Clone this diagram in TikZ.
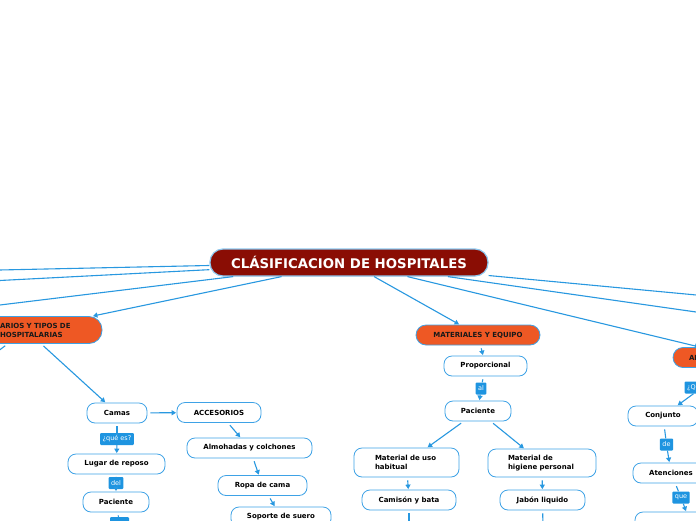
\documentclass[tikz,border=0pt]{standalone}
\usepackage{fontspec}
\setmainfont{DejaVu Sans}
\usepackage{xcolor}
\definecolor{rootcolor}{RGB}{138, 13, 4}
\definecolor{topiccolor}{RGB}{238, 88, 36}
\definecolor{edgecolor}{RGB}{40, 152, 224}
\definecolor{framecolor}{RGB}{62, 162, 230}
\definecolor{tagcolor}{RGB}{30, 148, 224}
\definecolor{halocolor}{RGB}{140, 200, 240}
\usepackage{tikz}
\usetikzlibrary{arrows.meta, calc}

\tikzset{
  root/.style={fill=rootcolor, draw=halocolor, line width=1.2pt, rounded corners=13pt,
    text=white, font=\fontsize{13.3}{15}\selectfont\bfseries,
    minimum width=278pt, minimum height=27pt, inner sep=0pt},
  topic/.style={fill=topiccolor, draw=framecolor, line width=0.8pt, rounded corners=10pt,
    text=black!90, font=\fontsize{7}{9}\selectfont\bfseries, minimum height=20pt, inner sep=0pt},
  item/.style={fill=white, draw=framecolor, line width=0.8pt, rounded corners=8pt,
    font=\fontsize{7}{9}\selectfont\bfseries, minimum height=20pt, inner sep=0pt},
  tag/.style={fill=tagcolor, text=white, font=\fontsize{6.5}{7}\selectfont,
    inner xsep=2.5pt, inner ysep=0pt, minimum height=12pt, rounded corners=1pt},
  link/.style={draw=edgecolor, line width=1.1pt},
  gap/.style={shorten <=3pt},
  arrow/.style={link, -{Triangle[length=4.5pt,width=5pt]}, shorten >=0.5pt},
}

\begin{document}
\begin{tikzpicture}[x=1pt, y=-1pt]
  \useasboundingbox (0,0) rectangle (696,520);
  \fill[white] (0,0) rectangle (696,520);
  \clip (0,0) rectangle (696,520);

  % centre
  \node[root] (root) at (349,262.5) {CLÁSIFICACION DE HOSPITALES};

  % left branch
  \node[topic, minimum width=152pt, minimum height=27pt, rounded corners=13pt,
    text width=134pt, inner xsep=9pt, align=left] (mobil) at (26,330)
    {\hspace*{41pt}ARIOS Y TIPOS DE\\\hspace*{41pt}HOSPITALARIAS};
  \node[item, minimum width=60pt] (camas) at (117,413) {Camas};
  \node[item, minimum width=84pt] (acces) at (219,412.5) {ACCESORIOS};
  \node[tag] (qes) at (117,439) {¿qué es?};
  \node[item, minimum width=97pt] (reposo) at (116.5,464) {Lugar de reposo};
  \node[tag] (del) at (116,483) {del};
  \node[item, minimum width=66pt] (paclft) at (116,502) {Paciente};
  \node[tag, minimum width=19pt] (lbot) at (119.5,523) {};
  \node[item, minimum width=125pt] (almoh) at (249.5,448) {Almohadas y colchones};
  \node[item, minimum width=89pt] (ropa) at (262.5,485.5) {Ropa de cama};
  \node[item, minimum width=100pt] (soporte) at (281,517) {Soporte de suero};

  % middle branch
  \node[topic, minimum width=124pt] (mater) at (478,335) {MATERIALES Y EQUIPO};
  \node[item, minimum width=83pt] (propor) at (485.5,366) {Proporcional};
  \node[tag] (al) at (481,388.5) {al};
  \node[item, minimum width=66pt] (pacmat) at (478,411) {Paciente};
  \node[item, minimum width=105pt, minimum height=29pt, text width=63pt, inner xsep=21pt,
    align=left] (usohab) at (406.5,462.5) {Material de uso\\habitual};
  \node[item, minimum width=108pt, minimum height=28pt, text width=68pt, inner xsep=20pt,
    align=left] (higiene) at (542,463) {Material de\\higiene personal};
  \node[item, minimum width=94pt] (camison) at (409,500) {Camisón y bata};
  \node[item, minimum width=85pt] (jabon) at (542.5,500) {Jabón liquido};

  % right branch
  \node[topic, minimum width=140pt, text width=108pt, inner xsep=16pt, align=left]
    (atend) at (743,357.5) {AL};
  \node[tag] (qes2) at (702,387.5) {¿Qué es?};
  \node[item, minimum width=70pt] (conj) at (663,416) {Conjunto};
  \node[tag] (de) at (666.5,444.5) {de};
  \node[item, minimum width=76pt] (atenc) at (671,473) {Atenciones};
  \node[tag] (que) at (681,497.5) {que};
  \node[item, minimum width=110pt] (sigue) at (690,522) {};

  % free ends
  \foreach \X/\Y [count=\i] in {-10/270.2, -10/281, -10/306.2, 706/295.9, 706/313.4}
    \coordinate (e\i) at (\X,\Y);
  \coordinate (e6) at (-15,361);
  \coordinate (e7) at (409,530);
  \coordinate (e8) at (543,530);

  % connectors
  \foreach \i in {1,...,5} \draw[link] (root) -- (e\i);
  \draw[arrow] (root) -- (mobil);
  \draw[arrow] (root) -- (mater);
  \draw[arrow] (root) -- (atend);

  \draw[arrow, gap] (mobil) -- (camas);
  \draw[link, gap] (mobil) -- (e6);
  \draw[arrow, gap] (camas) -- (acces);
  \draw[link, gap] (camas) -- (qes);
  \draw[arrow] (qes) -- (reposo);
  \draw[link, gap] (reposo) -- (del);
  \draw[arrow] (del) -- (paclft);
  \draw[link, gap] (paclft) -- (lbot);
  \draw[arrow, gap] (acces) -- (almoh);
  \draw[arrow, gap] (almoh) -- (ropa);
  \draw[arrow, gap] (ropa) -- (soporte);

  \draw[arrow, gap] (mater) -- (propor);
  \draw[link, gap] (propor) -- (al);
  \draw[arrow] (al) -- (pacmat);
  \draw[arrow, gap] (pacmat) -- (usohab);
  \draw[arrow, gap] (pacmat) -- (higiene);
  \draw[arrow, gap] (usohab) -- (camison);
  \draw[arrow, gap] (higiene) -- (jabon);
  \draw[link, gap] (camison) -- (e7);
  \draw[link, gap] (jabon) -- (e8);

  \draw[link, gap] (atend) -- (qes2);
  \draw[arrow] (qes2) -- (conj);
  \draw[link, gap] (conj) -- (de);
  \draw[arrow] (de) -- (atenc);
  \draw[link, gap] (atenc) -- (que);
  \draw[arrow] (que) -- (sigue);
\end{tikzpicture}
\end{document}
